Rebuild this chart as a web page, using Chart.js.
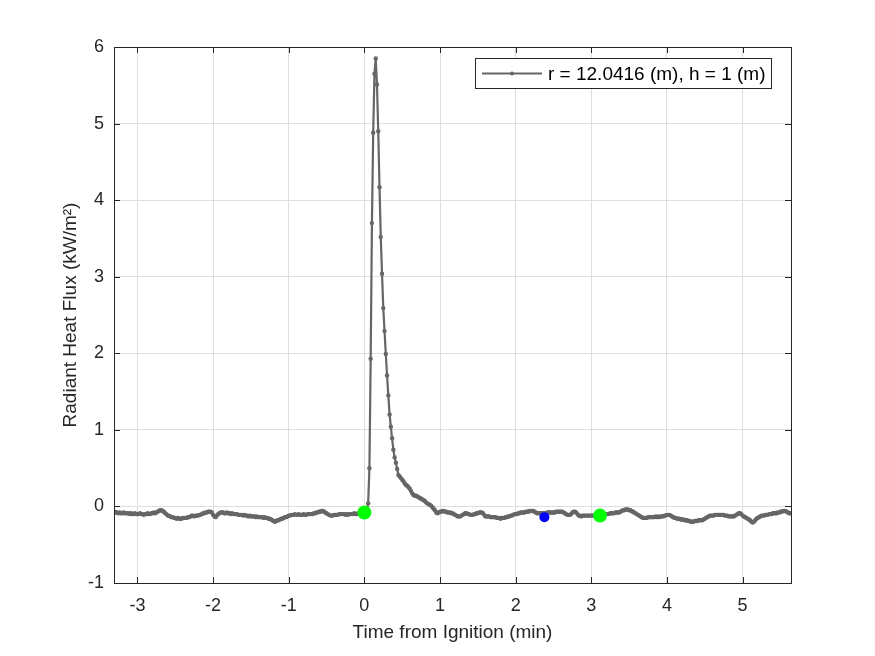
<!DOCTYPE html>
<html>
<head>
<meta charset="utf-8">
<script src="https://cdn.jsdelivr.net/npm/chart.js@4.4.1/dist/chart.umd.min.js"></script>
<style>
html, body { margin: 0; padding: 0; background: #fff; }
</style>
</head>
<body>
<canvas id="chartFlux" width="875" height="656"></canvas>
<script>
// one reading per second, time axis in minutes from ignition
var samplesPerMin = 60;
var ignitionIndex = 199;

// radiant heat flux (kW/m2), one value per second
var fluxValues = [
    -0.07,-0.07,-0.08,-0.08,-0.09,-0.08,-0.09,-0.09,-0.08,-0.09,
    -0.09,-0.09,-0.09,-0.10,-0.09,-0.10,-0.10,-0.09,-0.10,-0.10,
    -0.10,-0.09,-0.10,-0.10,-0.11,-0.10,-0.10,-0.09,-0.10,-0.10,
    -0.09,-0.09,-0.08,-0.09,-0.08,-0.07,-0.06,-0.05,-0.05,-0.06,
    -0.07,-0.09,-0.10,-0.12,-0.12,-0.13,-0.14,-0.14,-0.15,-0.15,
    -0.16,-0.15,-0.16,-0.16,-0.16,-0.15,-0.15,-0.15,-0.15,-0.14,
    -0.14,-0.13,-0.12,-0.12,-0.13,-0.12,-0.12,-0.12,-0.11,-0.11,
    -0.10,-0.09,-0.09,-0.08,-0.08,-0.07,-0.07,-0.07,-0.08,-0.11,
    -0.13,-0.14,-0.12,-0.10,-0.09,-0.08,-0.08,-0.08,-0.09,-0.09,
    -0.08,-0.09,-0.09,-0.10,-0.09,-0.10,-0.10,-0.10,-0.10,-0.11,
    -0.11,-0.11,-0.11,-0.12,-0.11,-0.12,-0.12,-0.13,-0.12,-0.13,
    -0.13,-0.13,-0.13,-0.14,-0.13,-0.14,-0.14,-0.14,-0.14,-0.15,
    -0.14,-0.15,-0.15,-0.16,-0.16,-0.17,-0.18,-0.19,-0.20,-0.19,
    -0.18,-0.18,-0.17,-0.16,-0.16,-0.15,-0.14,-0.14,-0.13,-0.12,
    -0.12,-0.11,-0.11,-0.11,-0.10,-0.11,-0.11,-0.10,-0.11,-0.11,
    -0.11,-0.10,-0.11,-0.11,-0.10,-0.10,-0.10,-0.10,-0.10,-0.09,
    -0.09,-0.08,-0.08,-0.07,-0.07,-0.06,-0.06,-0.07,-0.08,-0.09,
    -0.10,-0.11,-0.12,-0.12,-0.12,-0.11,-0.11,-0.11,-0.11,-0.10,
    -0.10,-0.10,-0.10,-0.10,-0.11,-0.10,-0.11,-0.10,-0.10,-0.10,
    -0.10,-0.09,-0.10,-0.10,-0.09,-0.09,-0.09,-0.09,-0.08,-0.08,
    -0.07,-0.04,0.04,0.50,1.93,3.70,4.88,5.65,5.85,5.51,
    4.90,4.17,3.52,3.04,2.59,2.29,1.99,1.71,1.45,1.20,
    1.04,0.89,0.74,0.64,0.57,0.49,0.41,0.39,0.37,0.35,
    0.33,0.30,0.28,0.27,0.25,0.23,0.20,0.17,0.15,0.14,
    0.14,0.13,0.12,0.11,0.10,0.09,0.08,0.07,0.05,0.04,
    0.03,0.02,0.01,-0.01,-0.03,-0.05,-0.08,-0.09,-0.08,-0.07,
    -0.07,-0.06,-0.06,-0.07,-0.07,-0.08,-0.08,-0.08,-0.09,-0.09,
    -0.10,-0.11,-0.12,-0.13,-0.13,-0.13,-0.12,-0.11,-0.10,-0.09,
    -0.09,-0.10,-0.10,-0.11,-0.11,-0.11,-0.10,-0.10,-0.09,-0.09,
    -0.08,-0.08,-0.08,-0.09,-0.11,-0.13,-0.13,-0.13,-0.13,-0.14,
    -0.14,-0.14,-0.14,-0.14,-0.15,-0.15,-0.15,-0.16,-0.15,-0.15,
    -0.15,-0.14,-0.14,-0.13,-0.13,-0.12,-0.12,-0.11,-0.10,-0.10,
    -0.10,-0.09,-0.09,-0.08,-0.08,-0.08,-0.08,-0.07,-0.07,-0.07,
    -0.06,-0.06,-0.06,-0.06,-0.07,-0.08,-0.09,-0.09,-0.09,-0.09,
    -0.09,-0.09,-0.09,-0.09,-0.08,-0.08,-0.08,-0.08,-0.08,-0.08,
    -0.08,-0.07,-0.07,-0.07,-0.07,-0.07,-0.07,-0.08,-0.09,-0.10,
    -0.11,-0.11,-0.11,-0.10,-0.08,-0.07,-0.07,-0.08,-0.10,-0.12,
    -0.12,-0.13,-0.12,-0.12,-0.12,-0.12,-0.12,-0.12,-0.12,-0.12,
    -0.12,-0.12,-0.12,-0.12,-0.12,-0.12,-0.12,-0.12,-0.11,-0.11,
    -0.11,-0.10,-0.10,-0.10,-0.09,-0.09,-0.09,-0.09,-0.08,-0.08,
    -0.08,-0.08,-0.07,-0.06,-0.05,-0.05,-0.04,-0.04,-0.04,-0.05,
    -0.05,-0.06,-0.07,-0.08,-0.09,-0.10,-0.11,-0.12,-0.13,-0.14,
    -0.15,-0.15,-0.15,-0.15,-0.14,-0.14,-0.14,-0.14,-0.14,-0.14,
    -0.13,-0.14,-0.13,-0.14,-0.13,-0.13,-0.13,-0.12,-0.12,-0.11,
    -0.11,-0.11,-0.12,-0.13,-0.14,-0.15,-0.15,-0.16,-0.16,-0.16,
    -0.17,-0.17,-0.17,-0.18,-0.18,-0.18,-0.19,-0.19,-0.20,-0.20,
    -0.20,-0.19,-0.19,-0.19,-0.18,-0.18,-0.18,-0.18,-0.17,-0.16,
    -0.15,-0.14,-0.13,-0.12,-0.12,-0.12,-0.12,-0.11,-0.11,-0.11,
    -0.11,-0.11,-0.11,-0.11,-0.11,-0.12,-0.12,-0.12,-0.13,-0.13,
    -0.13,-0.13,-0.13,-0.12,-0.11,-0.10,-0.09,-0.09,-0.10,-0.12,
    -0.13,-0.14,-0.15,-0.16,-0.17,-0.18,-0.20,-0.21,-0.20,-0.18,
    -0.16,-0.15,-0.14,-0.13,-0.12,-0.12,-0.12,-0.11,-0.11,-0.11,
    -0.10,-0.10,-0.10,-0.09,-0.09,-0.09,-0.09,-0.08,-0.08,-0.07,
    -0.07,-0.06,-0.06,-0.06,-0.07,-0.08,-0.09,-0.09
];

// event markers (time in min, flux)
var greenTimes = [0, 3.115];
var greenValues = [-0.08, -0.12];
var blueTimes = [2.38];
var blueValues = [-0.14];

var xTicks = [-3, -2, -1, 0, 1, 2, 3, 4, 5];
var yTicks = [-1, 0, 1, 2, 3, 4, 5, 6];
var seriesLabel = 'r = 12.0416 (m), h = 1 (m)';

var lineGray = 'rgb(102,102,102)';
var axisColor = '#262626';
var fontFamily = '"Liberation Sans", Arial, Helvetica, sans-serif';

function toPoints(xs, ys) {
    return xs.map(function (x, i) { return { x: x, y: ys[i] }; });
}

var fluxPoints = fluxValues.map(function (v, i) {
    return { x: (i - ignitionIndex) / samplesPerMin, y: v };
});

// box, inward ticks and legend drawn like the original figure
var matlabAxes = {
    id: 'matlabAxes',
    afterDraw: function (chart) {
        var ctx = chart.ctx;
        var a = chart.chartArea;
        var xs = chart.scales.x, ys = chart.scales.y;
        var tl = 6;
        ctx.save();
        ctx.strokeStyle = axisColor;
        ctx.lineWidth = 1;
        ctx.beginPath();
        xTicks.forEach(function (v) {
            var px = Math.round(xs.getPixelForValue(v)) + 0.5;
            ctx.moveTo(px, a.bottom); ctx.lineTo(px, a.bottom - tl);
            ctx.moveTo(px, a.top); ctx.lineTo(px, a.top + tl);
        });
        yTicks.forEach(function (v) {
            var py = Math.round(ys.getPixelForValue(v)) + 0.5;
            ctx.moveTo(a.left, py); ctx.lineTo(a.left + tl, py);
            ctx.moveTo(a.right, py); ctx.lineTo(a.right - tl, py);
        });
        ctx.stroke();
        ctx.strokeRect(Math.round(a.left) + 0.5, Math.round(a.top) + 0.5,
            Math.round(a.right - a.left), Math.round(a.bottom - a.top));

        // legend
        var lx = 475.5, ly = 58.5, lw = 296, lh = 30;
        ctx.fillStyle = '#fff';
        ctx.fillRect(lx, ly, lw, lh);
        ctx.strokeRect(lx, ly, lw, lh);
        var my = ly + lh / 2;
        ctx.strokeStyle = lineGray;
        ctx.lineWidth = 2;
        ctx.beginPath();
        ctx.moveTo(482, my); ctx.lineTo(542, my);
        ctx.stroke();
        ctx.fillStyle = lineGray;
        ctx.beginPath();
        ctx.arc(512, my, 2, 0, Math.PI * 2);
        ctx.fill();
        ctx.fillStyle = '#000';
        ctx.font = '19px ' + fontFamily;
        ctx.textBaseline = 'middle';
        ctx.textAlign = 'left';
        ctx.fillText(seriesLabel, 548, my + 1);
        ctx.restore();
    }
};

var ctx = document.getElementById('chartFlux').getContext('2d');
var chartFlux = new Chart(ctx, {
    type: 'line',
    data: {
        datasets: [{
            label: 'ignition',
            data: toPoints(greenTimes, greenValues),
            showLine: false,
            pointRadius: 7,
            pointBackgroundColor: '#00ff00',
            pointBorderWidth: 0,
            order: 0
        }, {
            label: 'event',
            data: toPoints(blueTimes, blueValues),
            showLine: false,
            pointRadius: 5,
            pointBackgroundColor: '#0000ff',
            pointBorderWidth: 0,
            order: 0
        }, {
            label: seriesLabel,
            data: fluxPoints,
            borderColor: lineGray,
            borderWidth: 2.2,
            pointRadius: 2.2,
            pointBackgroundColor: lineGray,
            pointBorderWidth: 0,
            tension: 0,
            clip: 0,
            order: 1
        }]
    },
    options: {
        responsive: false,
        animation: false,
        devicePixelRatio: 1,
        layout: { padding: { left: 0, right: 84, top: 47, bottom: 0 } },
        plugins: {
            legend: { display: false },
            tooltip: { enabled: false }
        },
        scales: {
            x: {
                type: 'linear',
                min: -3.31,
                max: 5.64,
                afterBuildTicks: function (scale) {
                    scale.ticks = xTicks.map(function (v) { return { value: v }; });
                },
                afterFit: function (scale) { scale.height = 73; },
                grid: { color: '#dedede', drawTicks: false },
                border: { display: false },
                ticks: {
                    color: axisColor,
                    padding: 12,
                    maxRotation: 0,
                    font: { family: fontFamily, size: 18 }
                },
                title: {
                    display: true,
                    text: 'Time from Ignition (min)',
                    color: axisColor,
                    font: { family: fontFamily, size: 19 },
                    padding: { top: 0, bottom: 12 }
                }
            },
            y: {
                type: 'linear',
                min: -1,
                max: 6,
                afterBuildTicks: function (scale) {
                    scale.ticks = yTicks.map(function (v) { return { value: v }; });
                },
                afterFit: function (scale) { scale.width = 114; },
                grid: { color: '#dedede', drawTicks: false },
                border: { display: false },
                ticks: {
                    color: axisColor,
                    padding: 10,
                    font: { family: fontFamily, size: 18 }
                },
                title: {
                    display: true,
                    text: 'Radiant Heat Flux (kW/m²)',
                    color: axisColor,
                    font: { family: fontFamily, size: 19 },
                    padding: { top: 59, bottom: 0 }
                }
            }
        }
    },
    plugins: [matlabAxes]
});
</script>
</body>
</html>
